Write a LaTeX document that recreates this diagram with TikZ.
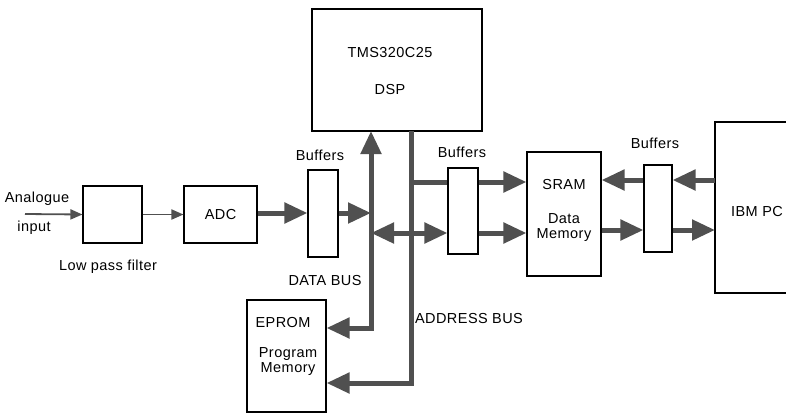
\documentclass[tikz,border=0pt]{standalone}
\usepackage{fontspec}
\setmainfont[LetterSpace=3]{Liberation Sans}
\usetikzlibrary{arrows.meta,positioning}
\definecolor{BusGrey}{RGB}{80,80,80}

\begin{document}
\begin{tikzpicture}[x=1pt,y=-1pt,
  font=\fontsize{14.5}{17}\selectfont,
  blk/.style={draw,line width=1.1pt,inner sep=0pt,align=center},
  bus/.style={draw=BusGrey,line width=5pt},
  bustip/.style={bus,-{Triangle[length=23pt,width=20pt,fill=BusGrey]}},
  busboth/.style={bus,{Triangle[length=23pt,width=20pt,fill=BusGrey]}-{Triangle[length=23pt,width=20pt,fill=BusGrey]}},
  thinarrow/.style={line width=1.8pt,draw=BusGrey,-{Triangle[length=12pt,width=10pt,fill=BusGrey]}}]
\useasboundingbox (0,0) rectangle (786,416);
% blocks
\node[blk,minimum width=170pt,minimum height=122pt] (dsp) at (397,70) {};
\node (dsptype) at (390,53) {TMS320C25};
\node (dspname) at (390,90) {DSP};
\node[blk,minimum width=59pt,minimum height=57pt] (lpf) at (112.5,214.5) {};
\node[blk,minimum width=73pt,minimum height=57pt] (adc) at (220.5,214.5) {ADC};
\node[blk,minimum width=30pt,minimum height=87pt] (bufa) at (323,213.5) {};
\node[blk,minimum width=30pt,minimum height=86pt] (bufb) at (463,211) {};
\node[blk,minimum width=74pt,minimum height=124pt] (sram) at (564,214) {};
\node[blk,minimum width=28pt,minimum height=87pt] (bufc) at (658,208.5) {};
\node[blk,minimum width=79pt,minimum height=112pt] (eprom) at (286.5,356) {};
\draw[line width=1.1pt] (786,122) -- (715,122) -- (715,293) -- (786,293);
% texts
\node (sramname) at (564,185) {SRAM};
\node[align=center] (sramtext) at (564,228) {Data\\[-2pt]Memory};
\node (epromname) at (283,322) {EPROM};
\node[align=center] (epromtext) at (288,362) {Program\\[-2pt]Memory};
\node (pc) at (757,212) {IBM PC};
\node (ana) at (37,199) {Analogue};
\node (inp) at (34,228) {input};
\node (lpflabel) at (108,267) {Low pass filter};
\node (bufalabel) at (320,155) {Buffers};
\node (bufblabel) at (462,152) {Buffers};
\node (bufclabel) at (655,143) {Buffers};
\node (databus) at (325,280) {DATA BUS};
\node (addrbus) at (469,318) {ADDRESS BUS};
% bus points
\coordinate (din) at (25,214);
\coordinate (dtop) at (371,131);
\coordinate (dmid) at (371,213);
\coordinate (dlow) at (371,233);
\coordinate (dbot) at (371,328);
\coordinate (atop) at (411,131);
\coordinate (abr) at (411,182);
\coordinate (abot) at (411,383);
\coordinate (pcup) at (715,180);
\coordinate (pclow) at (715,230);
% connectors
\draw[thinarrow] (din) -- (lpf.west);
\draw[thinarrow] (lpf) -- (adc);
\draw[bustip] (adc.east |- 0,213) -- (bufa.west |- 0,213);
\draw[bustip] (bufa.east |- dmid) -- (dmid);
\draw[busboth,line join=miter] (dtop) -- (dbot) -- (eprom.east |- dbot);
\draw[bustip,line join=miter] (atop) -- (abot) -- (eprom.east |- abot);
\draw[bus] (abr) -- (bufb.west |- abr);
\draw[busboth] (dlow) -- (bufb.west |- dlow);
\draw[bustip] (bufb.east |- abr) -- (sram.west |- abr);
\draw[bustip] (bufb.east |- dlow) -- (sram.west |- dlow);
\draw[bustip] (bufc.west |- pcup) -- (sram.east |- pcup);
\draw[bustip] (pcup) -- (bufc.east |- pcup);
\draw[bustip] (sram.east |- pclow) -- (bufc.west |- pclow);
\draw[bustip] (bufc.east |- pclow) -- (pclow);
\end{tikzpicture}
\end{document}
